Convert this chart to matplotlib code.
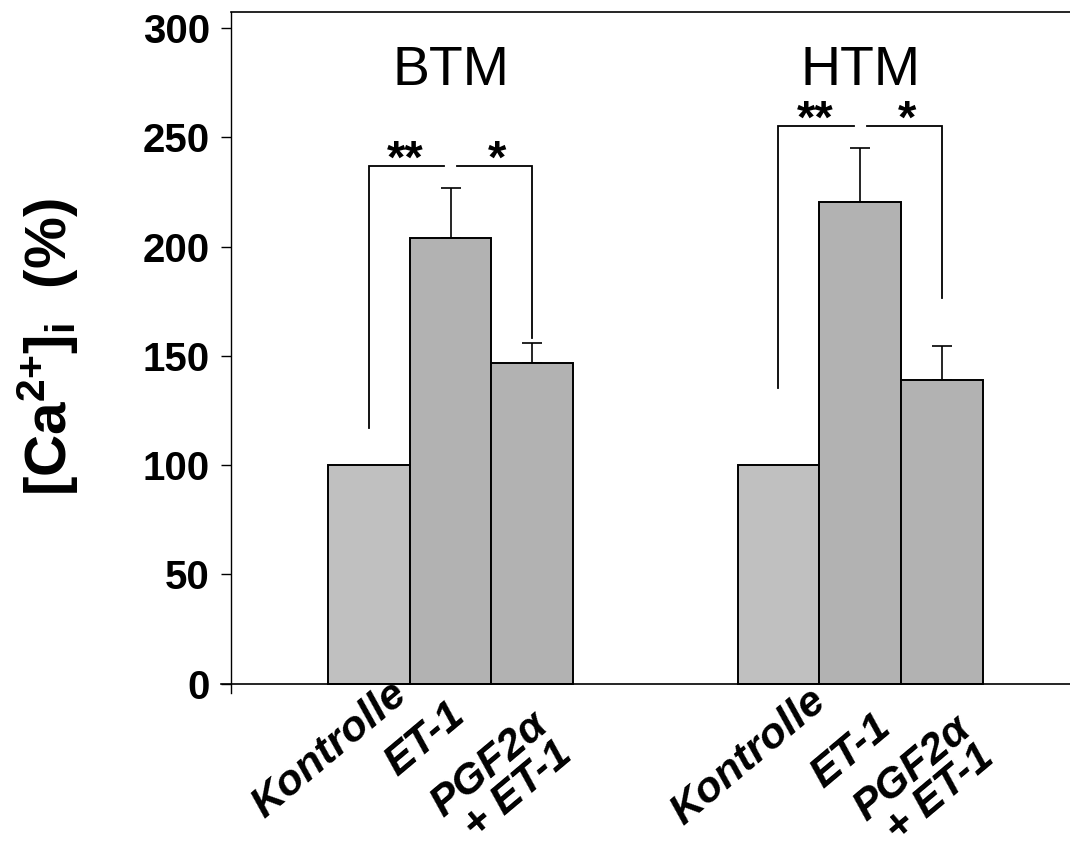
import matplotlib
matplotlib.use("Agg")
import matplotlib.pyplot as plt
import matplotlib.transforms as mtransforms

plt.rcParams['font.family'] = ['Liberation Sans', 'DejaVu Sans']
plt.rcParams['mathtext.fontset'] = 'custom'
plt.rcParams['mathtext.rm'] = 'Liberation Sans'
plt.rcParams['mathtext.bf'] = 'Liberation Sans:bold'
plt.rcParams['mathtext.it'] = 'Liberation Sans:italic'

# ---- data -------------------------------------------------------------
groups = ["BTM", "HTM"]
conditions = ["Kontrolle", "ET-1", "PGF2\u03b1\n+ ET-1"]
means = {
    "BTM": [100.0, 203.9, 146.9],
    "HTM": [100.0, 220.4, 139.0],
}
sem = {
    "BTM": [0.0, 22.9, 8.9],
    "HTM": [0.0, 24.7, 15.6],
}
# significance brackets: (top level, left foot, right foot)
bracket_top = {"BTM": 237.0, "HTM": 255.3}
bracket_left_foot = {"BTM": 117.0, "HTM": 135.3}
bracket_right_foot = {"BTM": 158.2, "HTM": 176.5}
sig_left = "**"
sig_right = "*"
yticks = [0, 50, 100, 150, 200, 250, 300]

# ---- layout -----------------------------------------------------------
W, H, DPI = 1070, 843, 100
fig = plt.figure(figsize=(W / DPI, H / DPI), dpi=DPI)
ax = fig.add_axes([231 / W, 1 - 693 / H, 1 - 231 / W, (693 - 12.3) / H])

group_centers = [2.688, 7.703]
bar_w = 1.0
bar_colors = ["#c0c0c0", "#b2b2b2", "#b2b2b2"]
# upper-right anchor of each rotated label, relative to its bar (x units, y data)
label_offsets = {
    "BTM": [(0.25, 4.5), (-0.05, -5.0), (-0.03, -10.0)],
    "HTM": [(0.36, 1.0), (0.16, -10.5), (0.13, -11.5)],
}
label_angle = 40

for g, gc in zip(groups, group_centers):
    xs = [gc - 1, gc, gc + 1]
    ax.bar(xs, means[g], width=bar_w, color=bar_colors,
           edgecolor="black", linewidth=1.4, zorder=2)
    err_x = [x for x, e in zip(xs, sem[g]) if e > 0]
    err_y = [m for m, e in zip(means[g], sem[g]) if e > 0]
    err_v = [e for e in sem[g] if e > 0]
    ax.errorbar(err_x, err_y, yerr=[[0] * len(err_v), err_v], fmt="none",
                ecolor="black", elinewidth=1.2, capsize=7.5, capthick=1.2,
                zorder=1)

    # significance brackets
    top = bracket_top[g]
    ax.plot([xs[0], xs[0], xs[1] - 0.08], [bracket_left_foot[g], top, top],
            color="black", lw=1.3, solid_joinstyle="miter", zorder=3)
    ax.plot([xs[1] + 0.08, xs[2], xs[2]], [top, top, bracket_right_foot[g]],
            color="black", lw=1.3, solid_joinstyle="miter", zorder=3)
    ax.annotate(sig_left, xy=(xs[0] + 0.45, top), xytext=(0, -5),
                textcoords="offset points", ha="center", va="baseline",
                fontsize=34, fontweight="bold")
    ax.annotate(sig_right, xy=(xs[1] + 0.57, top), xytext=(0, -5),
                textcoords="offset points", ha="center", va="baseline",
                fontsize=34, fontweight="bold")

    # group title
    ax.text(gc, 280.5, g, ha="center", va="center", fontsize=40)

    # rotated condition labels, anchored at their upper-right end
    for x, lab, (dx, dy) in zip(xs, conditions, label_offsets[g]):
        ax.text(x + dx, dy, lab, rotation=label_angle, rotation_mode="anchor",
                ha="right", va="top", fontsize=31, fontweight="bold",
                fontstyle="italic", linespacing=0.92, clip_on=False)

ax.set_xlim(0, (W - 231) / 81.67)
ax.set_ylim(-4.3, 307.3)
ax.set_yticks(yticks)
ax.set_yticklabels([str(t) for t in yticks], fontsize=29, fontweight="bold")
ax.set_xticks([])
ax.tick_params(axis="y", direction="out", length=7.2, width=1.0, pad=8)

ax.spines["right"].set_visible(False)
ax.spines["bottom"].set_visible(False)
ax.spines["left"].set_linewidth(1.0)
ax.spines["top"].set_linewidth(1.2)

# baseline at zero, reaching a little past the y axis
ax.plot([-10 / 839, 1.0], [0, 0], color="black", lw=1.2,
        transform=mtransforms.blended_transform_factory(ax.transAxes, ax.transData),
        clip_on=False, zorder=4)

fig.text(48 / W, 1 - 347 / H,
         "[Ca$^{\\mathbf{2}{\\mathbf{+}}}$]$_{\\mathbf{i}}$  (%)",
         rotation=90, ha="center", va="center", fontsize=42, fontweight="bold")

fig.savefig("out.png", dpi=DPI)
